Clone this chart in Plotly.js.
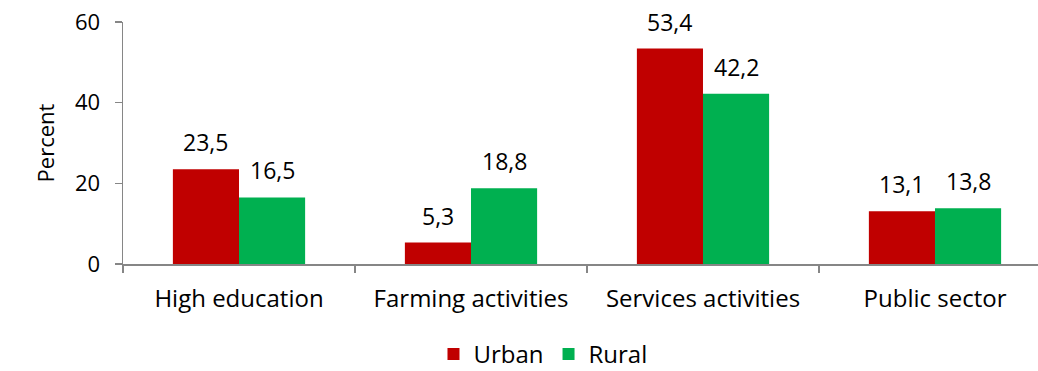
<!DOCTYPE html>
<html>
<head>
<meta charset="utf-8">
<script src="https://cdn.plot.ly/plotly-3.0.1.min.js"></script>
<style>html,body{margin:0;padding:0;background:#fff;}#chart{width:1038px;height:371px;}</style>
</head>
<body>
<div id="chart"></div>
<script>
const categories = ["High education", "Farming activities", "Services activities", "Public sector"];
const urban = [23.5, 5.3, 53.4, 13.1];
const rural = [16.5, 18.8, 42.2, 13.8];
const seriesNames = ["Urban", "Rural"];
const yTicks = [0, 20, 40, 60];

const FONT = "Open Sans, Noto Sans, sans-serif";
const axisGray = "#868686";
const BARGAP = 0.43;
const half = (1 - BARGAP) / 4;

const traces = [
  {type: "bar", name: seriesNames[0], x: categories, y: urban,
   marker: {color: "#C00000"}, hoverinfo: "skip"},
  {type: "bar", name: seriesNames[1], x: categories, y: rural,
   marker: {color: "#00B050"}, hoverinfo: "skip"}
];

const annotations = [];
[urban, rural].forEach((vals, s) => {
  vals.forEach((v, i) => {
    annotations.push({
      x: i + (s === 0 ? -half : half), y: v, xref: "x", yref: "y",
      text: v.toFixed(1).replace(".", ","), showarrow: false,
      yanchor: "bottom", yshift: 9,
      font: {family: FONT, size: 23, color: "#000"}
    });
  });
});

const layout = {
  width: 1038, height: 371,
  margin: {l: 123, r: 0, t: 22, b: 107},
  paper_bgcolor: "#fff", plot_bgcolor: "#fff",
  font: {family: FONT, color: "#000"},
  barmode: "group", bargap: BARGAP, bargroupgap: 0,
  showlegend: true,
  legend: {orientation: "h", x: 0.459, xanchor: "center", yref: "container", y: 0.045, yanchor: "middle",
           font: {family: FONT, size: 24}, traceorder: "normal"},
  annotations: annotations,
  xaxis: {type: "category", range: [-0.5, 3.444], showline: true, linecolor: axisGray, linewidth: 1.5,
          ticks: "outside", tickson: "boundaries", ticklen: 7, tickcolor: axisGray, tickwidth: 1.5,
          tickfont: {family: FONT, size: 24}, showgrid: false, zeroline: false, fixedrange: true,
          automargin: false, ticklabelstandoff: 13},
  yaxis: {range: [0, 60], tickvals: yTicks, showline: true, linecolor: axisGray, linewidth: 1.5,
          ticks: "outside", ticklen: 7, tickcolor: axisGray, tickwidth: 1.5,
          tickfont: {family: FONT, size: 22}, showgrid: false, zeroline: false, automargin: false,
          ticklabelstandoff: 10,
          title: {text: "Percent", font: {family: FONT, size: 22}, standoff: 14}, fixedrange: true}
};

Plotly.newPlot("chart", traces, layout, {staticPlot: true, displayModeBar: false});
</script>
</body>
</html>
